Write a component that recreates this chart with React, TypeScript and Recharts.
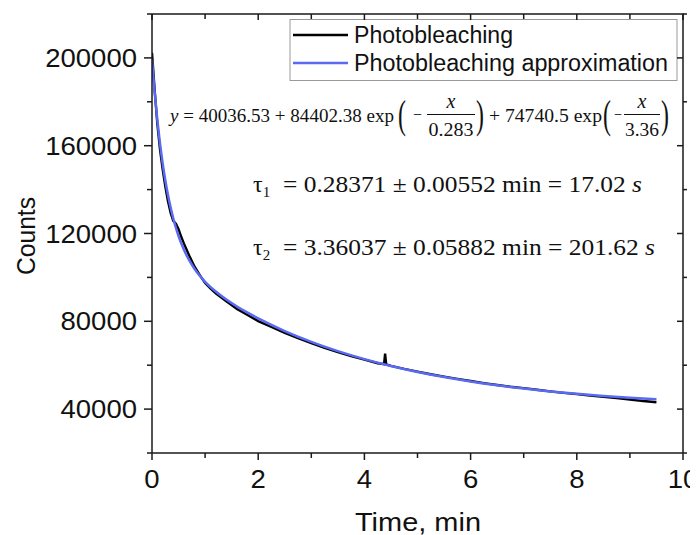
import React from "react";
import { LineChart, Line, XAxis, YAxis } from "recharts";

// measured decay (black)
const measuredTime = [
  0, 0.05, 0.1, 0.15, 0.2, 0.25, 0.3, 0.35, 0.4, 0.45, 0.5, 0.55, 0.6, 0.7,
  0.8, 0.9, 1.0, 1.1, 1.2, 1.4, 1.6, 1.8, 2.0, 2.25, 2.5, 2.75, 3.0, 3.25,
  3.5, 3.75, 4.0, 4.25, 4.37, 4.39, 4.41, 4.5, 4.75, 5.0, 5.25, 5.5, 5.75,
  6.0, 6.25, 6.5, 6.75, 7.0, 7.25, 7.5, 7.75, 8.0, 8.25, 8.5, 8.75, 9.0,
  9.25, 9.5,
];
const measuredCounts = [
  202300, 185500, 170000, 158500, 149300, 141500, 134800, 129500, 125800,
  124500, 122000, 118500, 115500, 110000, 105000, 101000, 97500, 95000,
  92700, 89100, 85600, 82900, 80100, 77400, 74700, 72300, 70100, 67900,
  66000, 64200, 62500, 60900, 60500, 65300, 60400, 59700, 58300, 57100,
  55900, 54800, 53800, 52800, 51850, 51000, 50200, 49550, 48800, 48100,
  47400, 46800, 46150, 45550, 45000, 44300, 43700, 43100,
];

// fitted curve (blue)
const fitTime = [
  0, 0.05, 0.1, 0.15, 0.2, 0.25, 0.3, 0.35, 0.4, 0.45, 0.5, 0.6, 0.7, 0.8,
  0.9, 1.0, 1.2, 1.4, 1.6, 1.8, 2.0, 2.5, 3.0, 3.5, 4.0, 4.5, 5.0, 5.5, 6.0,
  6.5, 7.0, 7.5, 8.0, 8.5, 9.0, 9.5,
];
const fitCounts = [
  199180, 184360, 171870, 161190, 152090, 144310, 137640, 131900, 126930,
  122620, 118870, 112690, 107840, 103940, 100720, 98000, 93550, 89900, 86750,
  83930, 81330, 75570, 70650, 66410, 62770, 59630, 56910, 54580, 52570,
  50840, 49340, 48060, 46950, 45990, 45170, 44460,
];

const xTicks = [0, 1, 2, 3, 4, 5, 6, 7, 8, 9, 10];
const xLabels = [0, 2, 4, 6, 8, 10];
const yTicks = [
  20000, 40000, 60000, 80000, 100000, 120000, 140000, 160000, 180000, 200000,
  220000,
];
const yLabels = [40000, 80000, 120000, 160000, 200000];

const measured = measuredTime.map((t, i) => ({ t, counts: measuredCounts[i] }));
const fitted = fitTime.map((t, i) => ({ t, counts: fitCounts[i] }));

const sans = "'Liberation Sans', Arial, sans-serif";
const serif = "'Liberation Serif', 'Times New Roman', serif";
const axisColor = "#1a1a1a";
const blue = "#5a6af2";

// plot box inside the chart svg (used for the mirrored top/right frame only)
const box = { left: 144, right: 675, top: 6, bottom: 445 };
const frameX = (t: number) => box.left + (t / 10) * (box.right - box.left);
const frameY = (v: number) =>
  box.bottom - ((v - 20000) / 200000) * (box.bottom - box.top);

const BottomTick = (props: any) => {
  const { x, y, payload } = props;
  const major = xLabels.includes(payload.value);
  const label = String(payload.value);
  return (
    <g>
      <line x1={x} x2={x} y1={y} y2={y + (major ? 7 : 5)} stroke={axisColor} strokeWidth={1.5} />
      {major && (
        <text
          x={x}
          y={y + 35}
          textAnchor="middle"
          fontFamily={sans}
          fontSize={25}
          fill="#111"
          textLength={label.length * 15.3}
          lengthAdjust="spacingAndGlyphs"
        >
          {label}
        </text>
      )}
    </g>
  );
};

const LeftTick = (props: any) => {
  const { x, y, payload } = props;
  const major = yLabels.includes(payload.value);
  const label = String(payload.value);
  return (
    <g>
      <line x1={x} x2={x - (major ? 8 : 5)} y1={y} y2={y} stroke={axisColor} strokeWidth={1.5} />
      {major && (
        <text
          x={x - 15}
          y={y + 9}
          textAnchor="end"
          fontFamily={sans}
          fontSize={25}
          fill="#111"
          textLength={label.length * 15.3}
          lengthAdjust="spacingAndGlyphs"
        >
          {label}
        </text>
      )}
    </g>
  );
};

const Paren = ({ x, y, ch }: { x: number; y: number; ch: string }) => (
  <g transform={`translate(${x},${y}) scale(0.7,1.2)`}>
    <text x={0} y={0} fontSize={34}>
      {ch}
    </text>
  </g>
);

// top and right frame edges with inward ticks, laid over the chart
const Frame = () => (
  <svg
    width={690}
    height={527}
    style={{ position: "absolute", left: 0, top: 0, zIndex: 10, pointerEvents: "none" }}
  >
    <path
      d={`M${box.left},${box.top} H${box.right} V${box.bottom}`}
      fill="none"
      stroke={axisColor}
      strokeWidth={1.5}
    />
    {xTicks.map((t) => (
      <line
        key={`tt${t}`}
        x1={frameX(t)}
        x2={frameX(t)}
        y1={box.top}
        y2={box.top + (xLabels.includes(t) ? 6 : 5)}
        stroke={axisColor}
        strokeWidth={1.5}
      />
    ))}
    {yTicks.map((v) => (
      <line
        key={`rt${v}`}
        x1={box.right}
        x2={yLabels.includes(v) ? box.right - 6 : box.right + 4}
        y1={frameY(v)}
        y2={frameY(v)}
        stroke={axisColor}
        strokeWidth={1.5}
      />
    ))}
  </svg>
);

const Annotations = () => (
  <svg
    width={690}
    height={527}
    style={{ position: "absolute", left: 0, top: 0, overflow: "visible" }}
  >
    <g transform="translate(-8,-8)">
      {/* axis titles */}
      <text
        transform="translate(35,236) rotate(-90)"
        textAnchor="middle"
        fontFamily={sans}
        fontSize={25}
        fill="#111"
        textLength={78}
        lengthAdjust="spacingAndGlyphs"
      >
        Counts
      </text>
      <text
        x={418}
        y={531}
        textAnchor="middle"
        fontFamily={sans}
        fontSize={25}
        fill="#111"
        textLength={126}
        lengthAdjust="spacingAndGlyphs"
      >
        Time, min
      </text>

      {/* legend */}
      <rect x={290} y={19.5} width={387} height={61} fill="#fff" stroke="#9a9a9a" strokeWidth={1} />
      <line x1={293} x2={348} y1={35} y2={35} stroke="#000" strokeWidth={2.5} />
      <line x1={293} x2={348} y1={63} y2={63} stroke={blue} strokeWidth={2.5} />
      <text x={354} y={43} fontFamily={sans} fontSize={23} fill="#111" textLength={159} lengthAdjust="spacingAndGlyphs">
        Photobleaching
      </text>
      <text x={354} y={71} fontFamily={sans} fontSize={23} fill="#111" textLength={314} lengthAdjust="spacingAndGlyphs">
        Photobleaching approximation
      </text>

      {/* fit equation */}
      <g fontFamily={serif} fill="#111">
        <text x={170} y={122} fontSize={19} textLength={224} lengthAdjust="spacingAndGlyphs">
          <tspan fontStyle="italic">y</tspan> = 40036.53 + 84402.38 exp
        </text>
        <Paren x={398} y={128} ch="(" />
        <text x={413} y={120} fontSize={16} textLength={9} lengthAdjust="spacingAndGlyphs">−</text>
        <text x={451} y={108} fontSize={20} fontStyle="italic" textAnchor="middle">x</text>
        <line x1={427} x2={475} y1={114.5} y2={114.5} stroke="#111" strokeWidth={1.2} />
        <text x={451} y={136} fontSize={19} textAnchor="middle" textLength={45} lengthAdjust="spacingAndGlyphs">0.283</text>
        <Paren x={476} y={128} ch=")" />
        <text x={489} y={122} fontSize={19} textLength={113} lengthAdjust="spacingAndGlyphs">+ 74740.5 exp</text>
        <Paren x={603} y={128} ch="(" />
        <text x={614} y={120} fontSize={16} textLength={8} lengthAdjust="spacingAndGlyphs">−</text>
        <text x={642} y={108} fontSize={20} fontStyle="italic" textAnchor="middle">x</text>
        <line x1={624} x2={660} y1={114.5} y2={114.5} stroke="#111" strokeWidth={1.2} />
        <text x={642} y={136} fontSize={19} textAnchor="middle" textLength={34} lengthAdjust="spacingAndGlyphs">3.36</text>
        <Paren x={661} y={128} ch=")" />
      </g>

      {/* time constants */}
      <g fontFamily={serif} fill="#111">
        <text x={253} y={192} fontSize={24}>
          τ<tspan fontSize={15} dy={5}>1</tspan>
        </text>
        <text x={283} y={192} fontSize={23} textLength={359} lengthAdjust="spacingAndGlyphs">
          = 0.28371  ± 0.00552 min = 17.02 <tspan fontStyle="italic">s</tspan>
        </text>
        <text x={253} y={255} fontSize={24}>
          τ<tspan fontSize={15} dy={5}>2</tspan>
        </text>
        <text x={283} y={255} fontSize={23} textLength={372} lengthAdjust="spacingAndGlyphs">
          = 3.36037  ± 0.05882 min = 201.62 <tspan fontStyle="italic">s</tspan>
        </text>
      </g>
    </g>
  </svg>
);

export default function App() {
  return (
    <div style={{ position: "relative", width: 690, height: 527, background: "#fff" }}>
      <Annotations />
      <div style={{ position: "absolute", left: 0, top: 0 }}>
        <LineChart width={690} height={527} margin={{ top: 6, right: 15, bottom: 0, left: 0 }}>
          <XAxis
            type="number"
            dataKey="t"
            domain={[0, 10]}
            ticks={xTicks}
            interval={0}
            height={82}
            tickSize={0}
            tickMargin={0}
            tick={<BottomTick />}
            axisLine={{ stroke: axisColor, strokeWidth: 1.5 }}
            allowDataOverflow
          />
          <YAxis
            type="number"
            domain={[20000, 220000]}
            ticks={yTicks}
            interval={0}
            width={144}
            tickSize={0}
            tickMargin={0}
            tick={<LeftTick />}
            axisLine={{ stroke: axisColor, strokeWidth: 1.5 }}
            allowDataOverflow
          />
          <Line
            data={measured}
            dataKey="counts"
            type="linear"
            stroke="#000"
            strokeWidth={2.4}
            dot={false}
            isAnimationActive={false}
          />
          <Line
            data={fitted}
            dataKey="counts"
            type="monotone"
            stroke={blue}
            strokeWidth={2.5}
            dot={false}
            isAnimationActive={false}
          />
        </LineChart>
      </div>
      <Frame />
    </div>
  );
}
